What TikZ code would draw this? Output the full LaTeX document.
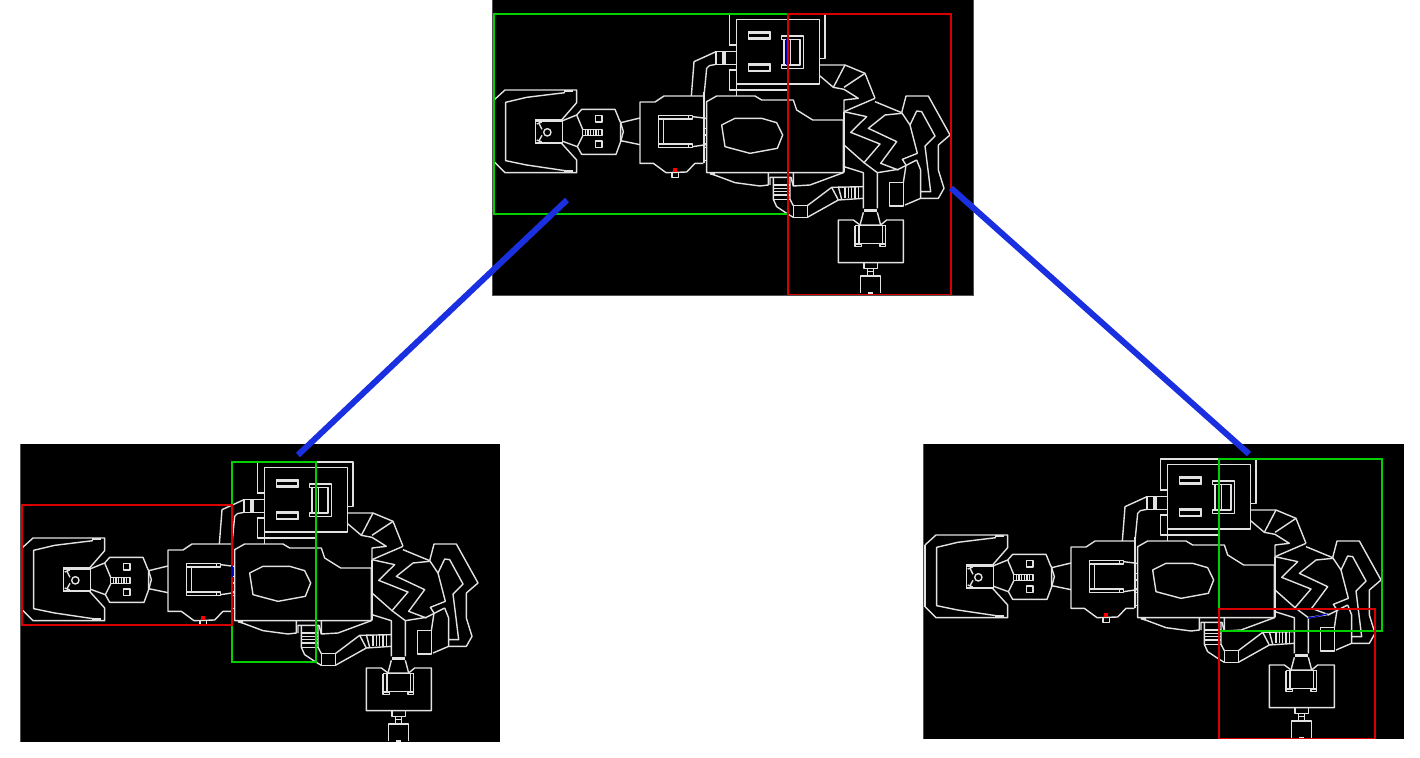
\documentclass[tikz,border=0pt]{standalone}
\definecolor{mapline}{HTML}{E2E2E2}
\definecolor{linkblue}{HTML}{1A30E0}
\definecolor{bgreen}{HTML}{00D000}
\definecolor{bred}{HTML}{D80000}
\definecolor{edgegray}{HTML}{505050}
\tikzset{
  zleft/.style={shift={(490,0)},x=0.16667pt,y=-0.16667pt},
  zright/.style={shift={(690,0)},x=0.16667pt,y=-0.16667pt},
  wl/.style={draw=mapline,line width=0.7pt,line join=round},
  tk/.style={draw=mapline,line width=1.2pt},
  bgr/.style={draw=bgreen,line width=0.7pt},
  brd/.style={draw=bred,line width=0.7pt},
  link/.style={draw=linkblue,line width=3pt},
  doorblue/.style={draw=blue!75!black,line width=1.2pt},
  panel/.style={fill=black,draw=none},
  gedge/.style={draw=edgegray,line width=0.6pt}
}
\newcommand{\dmap}{%
\begin{scope}[zleft]
 % first room
 \draw[wl] (12,300)--(45,270)--(260,270)--(260,308)--(213,362);
 \draw[wl] (12,485)--(45,518)--(260,518)--(260,480)--(213,428);
 \draw[wl] (12,300)--(12,485);
 \draw[wl] (225,278)--(110,292)--(47,307)--(47,482)--(110,495)--(225,512);
 \draw[tk] (222,273)--(248,273) (222,515)--(248,515);
 \draw[wl] (136,362) rectangle (218,430);
 \draw[tk] (136,362)--(218,362) (136,429)--(218,429);
 \draw[wl] (172,397) circle (11);
 \draw[wl] (140,372)--(155,366) (140,420)--(155,426) (146,368)--(156,388) (146,424)--(156,406);
 % second room
 \draw[wl] (218,362)--(260,345)--(275,328)--(375,328)--(388,360)--(392,368)--(392,425)--(378,463)--(275,463)--(262,440)--(218,424);
 \draw[wl] (260,345)--(278,388) (278,408)--(262,440);
 \draw[wl] (316,347) rectangle (336,366) (316,423) rectangle (336,442);
 \draw[wl] (278,388) rectangle (336,406);
 \foreach \q in {286,294,302,310,318,326} \draw[wl] (\q,388)--(\q,406);
 \draw[wl] (392,368)--(450,354) (392,422)--(450,434) (392,368)--(400,395)--(392,425);
 % third room
 \draw[wl] (640,288)--(522,288)--(495,306)--(450,306)--(450,490)--(490,490)--(528,518)--(590,516)--(615,490)--(640,490);
 \draw[wl] (505,347) rectangle (608,357) (505,432) rectangle (608,442);
 \draw[wl] (505,357)--(505,432) (520,357)--(520,432) (596,347)--(596,357) (596,432)--(596,442);
 \draw[wl] (608,350)--(648,355) (608,440)--(648,434);
 \draw[wl] (640,288)--(640,490);
 \draw[wl] (640,355)--(650,355) (640,385)--(650,385) (640,405)--(650,405) (640,432)--(650,432) (640,442)--(650,442) (640,482)--(650,482);
 \fill[red] (550,503) rectangle (562,516);
 \draw[wl] (546,518) rectangle (566,533);
 \draw[wl] (604,288)--(612,185)--(678,155);
\end{scope}
\begin{scope}[zright]
 % north wing
 \draw[wl] (42,288)--(50,205)--(58,197)--(78,193);
 \draw[wl] (78,155)--(140,155) (78,193)--(140,193);
 \draw[wl] (78,155)--(78,193) (98,155)--(98,193);
 \draw[tk] (103,155)--(103,193);
 \draw[wl] (118,135)--(118,42)--(405,42)--(405,175)--(388,175);
 \draw[wl] (118,135)--(140,135) (118,210)--(140,210) (118,210)--(118,270)--(292,270);
 \draw[wl] (140,58) rectangle (388,252);
 \draw[wl] (140,252)--(140,288);
 \draw[wl] (175,95) rectangle (240,118) (175,190) rectangle (240,215);
 \draw[tk] (178,97)--(238,97) (178,116)--(238,116) (178,193)--(238,193) (178,213)--(238,213);
 \draw[wl] (275,108)--(340,108)--(340,205)--(275,205)--(275,195)--(330,195)--(330,118)--(275,118)--cycle;
 \draw[wl] (282,118)--(282,195) (301,118)--(301,195);
 \MAPBLUETOP
 % big room
 \draw[wl] (50,305)--(80,288)--(195,288)--(215,300)--(310,300)--(320,330)--(368,360)--(460,360)--(460,518)--(50,518)--cycle;
 \draw[wl] (42,275)--(42,490);
 \draw[wl] (95,375)--(135,355)--(215,355)--(260,368)--(278,405)--(262,445)--(180,460)--(105,440)--cycle;
 % south walls
 \draw[wl] (60,520)--(135,548)--(210,558)--(235,555)--(235,518);
 \draw[tk] (60,520)--(74,523);
 \draw[wl] (310,518)--(310,558)--(360,555)--(460,518);
 \draw[wl] (240,555)--(240,532)--(303,532)--(310,558);
 \draw[wl] (250,532)--(250,598)--(260,620)--(290,640)--(310,652);
 \draw[wl] (300,532)--(300,598)--(310,617);
 \foreach \q in {555,565,575,585,598} \draw[wl] (250,\q)--(300,\q);
 \draw[wl] (310,617) rectangle (352,652);
 \draw[wl] (352,617)--(425,562)--(520,560) (352,652)--(445,600)--(520,595) (425,562)--(445,600);
 \draw[wl] (445,560)--(455,598);
 \foreach \q in {465,475,485,495,505,520} \draw[wl] (\q,560)--(\q,595);
 % north-east stairs
 \draw[wl] (388,195)--(465,195)--(525,220)--(555,295);
 \draw[wl] (390,228)--(430,262)--(462,268)--(505,295)--(462,300)--(462,518);
 \draw[wl] (465,195)--(430,262) (525,220)--(462,262);
 \draw[wl] (555,295)--(462,335) (555,305)--(635,338);
 \draw[wl,line width=1pt] (461,335)--(461,515);
 % zigzags
 \draw[wl] (462,335)--(530,350)--(482,397)--(570,432)--(522,488)--(462,435);
 \draw[wl] (635,340)--(585,345)--(535,385)--(620,425)--(572,490)--(625,510);
 \draw[wl] (462,500)--(520,518)--(520,625) (562,518)--(562,625) (522,488)--(562,518);
 \draw[wl] (562,518)--(625,508)--(680,480);
 \MAPBLUERIGHT
 \draw[tk] (522,631)--(562,631);
 \draw[wl] (520,637)--(510,675) (562,637)--(572,675);
 % east cave
 \draw[wl] (635,338)--(648,288)--(715,288)--(780,405)--(745,435)--(745,510)--(762,565)--(745,595)--(692,595)--(645,615);
 \draw[wl] (660,375)--(680,333)--(695,335)--(735,408)--(705,438)--(722,575)--(692,575)--(692,595);
 \draw[wl] (635,338)--(660,375)--(682,460)--(637,478)--(648,495)--(640,548);
 \draw[wl] (680,480)--(692,510)--(692,575);
 \draw[wl] (598,548) rectangle (640,618);
 % south room
 \draw[wl] (445,660)--(490,660)--(510,675)--(572,675)--(590,660)--(640,660)--(640,788)--(445,788)--cycle;
 \draw[wl] (495,677)--(587,677);
 \draw[wl] (495,677)--(495,732) (507,677)--(507,732) (577,677)--(577,732) (587,677)--(587,732);
 \draw[wl] (507,730)--(577,730);
 \draw[wl] (495,732) rectangle (514,740) (570,732) rectangle (587,740);
 \draw[wl] (522,788)--(522,805)--(562,805)--(562,788);
 \draw[wl] (532,805)--(532,828) (550,805)--(550,828);
 \draw[wl] (532,815)--(550,815);
 \draw[wl] (512,880)--(512,828)--(572,828)--(572,880);
 \draw[tk] (535,879)--(548,879);
\end{scope}}
\newcommand{\MAPBLUETOP}{\draw[wl] (293,118)--(293,195);}
\newcommand{\MAPBLUERIGHT}{}
\begin{document}
\begin{tikzpicture}[x=0.5pt,y=-0.5pt]
\useasboundingbox (0,0) rectangle (1420,758);
% top panel
\fill[panel] (493,0) rectangle (973,295);
\draw[gedge] (492.5,0)--(492.5,295.5)--(973.5,295.5)--(973.5,0);
\begin{scope}
 \renewcommand{\MAPBLUETOP}{\draw[doorblue] (293,118)--(293,195);}
 \dmap
\end{scope}
\draw[bgr] (494,14) rectangle (788,214);
\draw[brd] (788,14) rectangle (951,294.5);
% left panel
\fill[panel] (21,444) rectangle (500,742);
\draw[gedge] (20.5,444)--(20.5,742);
\begin{scope}[shift={(-472,448)}]
 \dmap
\end{scope}
\draw[bgr] (232,462) rectangle (316,662);
\draw[brd] (22,505) rectangle (232,625);
\draw[doorblue] (232,566)--(232,577);
% right panel
\fill[panel] (924,444) rectangle (1404,739);
\draw[gedge] (923.5,444)--(923.5,739);
\begin{scope}[shift={(431,445)}]
 \renewcommand{\MAPBLUERIGHT}{\draw[doorblue,line width=0.6pt] (561,519)--(580,516)--(618,507);}
 \dmap
\end{scope}
\draw[bgr] (1219,459) rectangle (1382,631);
\draw[brd] (1219,609) rectangle (1375,738.5);
% links
\coordinate (topL) at (567,200);
\coordinate (leftEnd) at (298,455);
\coordinate (topR) at (951,188);
\coordinate (rightEnd) at (1249,454);
\draw[link] (topL)--(leftEnd);
\draw[link] (topR)--(rightEnd);
\end{tikzpicture}
\end{document}
